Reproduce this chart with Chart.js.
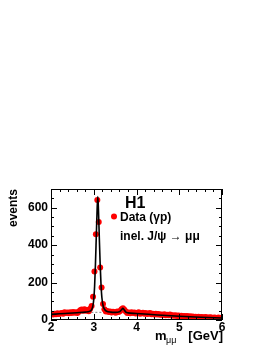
<!DOCTYPE html>
<html>
<head>
<meta charset="utf-8">
<script src="https://cdn.jsdelivr.net/npm/chart.js@4/dist/chart.umd.min.js"></script>
<style>
  html, body { margin: 0; padding: 0; background: #fff; }
  canvas { display: block; }
</style>
</head>
<body>
<canvas id="h1Mass" width="273" height="353"></canvas>
<script>
// m_mumu histogram, 120 bins of 1/30 GeV from 2 to 6 GeV
const binLow = 2.0;
const binWidth = 1 / 30;
const counts = [
  34, 30, 33, 31, 36, 32, 35, 38, 34, 42,
  37, 40, 36, 41, 38, 43, 39, 41, 37, 44,
  52, 56, 50, 58, 49, 54, 47, 60, 75, 124,
  259, 458, 641, 524, 281, 173, 85, 58, 45, 48,
  43, 45, 40, 44, 42, 39, 45, 43, 48, 58,
  63, 55, 46, 38, 40, 36, 42, 37, 40, 35,
  38, 41, 34, 36, 39, 33, 37, 32, 35, 38,
  31, 34, 30, 33, 29, 32, 28, 30, 27, 31,
  26, 28, 25, 29, 24, 26, 23, 25, 22, 24,
  21, 23, 20, 22, 19, 21, 18, 20, 17, 19,
  16, 18, 15, 17, 14, 16, 15, 13, 16, 14,
  12, 15, 13, 11, 14, 12, 10, 13, 11, 12
];

// fit curve (signal + background)
const fitMass = [2.0, 2.2, 2.4, 2.6, 2.8, 2.9, 2.95, 2.98, 3.0, 3.02, 3.04, 3.06, 3.08, 3.095,
  3.11, 3.13, 3.15, 3.17, 3.19, 3.22, 3.26, 3.3, 3.4, 3.5, 3.6, 3.65, 3.68, 3.71, 3.75, 3.8,
  4.0, 4.5, 5.0, 5.5, 6.0];
const fitEvents = [30, 33, 36, 39, 42, 46, 55, 75, 110, 180, 300, 450, 600, 660,
  590, 440, 300, 190, 120, 75, 55, 47, 42, 41, 44, 55, 62, 55, 42, 38,
  35, 27, 20, 15, 11];

// background component under the peaks (dotted)
const bkgMass = [2.85, 3.62];
const bkgEvents = [41, 41];

const xTicks = [2, 3, 4, 5, 6];
const yTicks = [0, 200, 400, 600];

const points = counts.map((c, i) => ({ x: binLow + (i + 0.5) * binWidth, y: c }));
const fitLine = fitMass.map((m, i) => ({ x: m, y: fitEvents[i] }));
const bkgLine = bkgMass.map((m, i) => ({ x: m, y: bkgEvents[i] }));

const FONT = "'Liberation Sans', Arial, Helvetica, sans-serif";

// ROOT-like frame with inward ticks, the x title with subscript, and the legend
const rootFrame = {
  id: "rootFrame",
  afterDatasetsDraw(chart) {
    const ctx = chart.ctx;
    const a = chart.chartArea;
    const xs = chart.scales.x;
    const ys = chart.scales.y;
    ctx.save();
    ctx.strokeStyle = "#000";
    ctx.lineWidth = 1;
    ctx.strokeRect(a.left + 0.5, a.top + 0.5, a.right - a.left - 1, a.bottom - a.top - 1);
    ctx.beginPath();
    for (let v = 2; v <= 6.0001; v += 0.2) {
      const px = Math.round(xs.getPixelForValue(v)) + 0.5;
      const major = Math.abs(v - Math.round(v)) < 1e-6;
      const len = major ? 6 : 3;
      ctx.moveTo(px, a.bottom); ctx.lineTo(px, a.bottom - len);
      ctx.moveTo(px, a.top); ctx.lineTo(px, a.top + len);
    }
    for (let v = 0; v <= 700; v += 50) {
      const py = Math.round(ys.getPixelForValue(v)) + 0.5;
      const major = v % 200 === 0;
      const len = major ? 6 : 3;
      ctx.moveTo(a.left, py); ctx.lineTo(a.left + len, py);
      ctx.moveTo(a.right, py); ctx.lineTo(a.right - len, py);
    }
    ctx.stroke();

    ctx.fillStyle = "#000";
    ctx.textBaseline = "alphabetic";

    // x title: m_{mumu} [GeV], ending at the right of the frame
    ctx.font = "bold 13px " + FONT;
    ctx.textAlign = "right";
    ctx.fillText("[GeV]", a.right + 1, 340);
    ctx.textAlign = "left";
    ctx.fillText("m", 155, 340);
    ctx.font = "9px " + FONT;
    ctx.fillText("\u03bc\u03bc", 166, 343);

    ctx.font = "bold 16px " + FONT;
    ctx.fillText("H1", 125, 208);
    ctx.font = "bold 12px " + FONT;
    ctx.fillText("Data (\u03b3p)", 120, 221);
    ctx.fillText("inel. J/\u03c8 \u2192 \u03bc\u03bc", 120, 240);
    ctx.fillStyle = "#ff0000";
    ctx.beginPath();
    ctx.arc(114, 216.5, 3, 0, Math.PI * 2);
    ctx.fill();
    ctx.restore();
  }
};

new Chart(document.getElementById("h1Mass").getContext("2d"), {
  type: "scatter",
  data: {
    datasets: [
      {
        label: "bkg",
        type: "line",
        data: bkgLine,
        borderColor: "#888",
        borderWidth: 1,
        borderDash: [2, 2],
        pointRadius: 0,
        order: 3
      },
      {
        label: "Data",
        data: points,
        backgroundColor: "#ff0000",
        borderColor: "#ff0000",
        pointRadius: 3,
        borderWidth: 0,
        order: 2
      },
      {
        label: "fit",
        type: "line",
        data: fitLine,
        borderColor: "#000",
        borderWidth: 1.6,
        pointRadius: 0,
        cubicInterpolationMode: "monotone",
        order: 1
      }
    ]
  },
  options: {
    responsive: false,
    devicePixelRatio: 1,
    animation: false,
    layout: { padding: { left: 0, top: 189, right: 51, bottom: 0 } },
    plugins: { legend: { display: false }, tooltip: { enabled: false } },
    scales: {
      x: {
        type: "linear",
        min: 2,
        max: 6,
        afterFit: s => { s.height = 33; },
        afterBuildTicks: s => { s.ticks = xTicks.map(v => ({ value: v })); },
        grid: { display: false, drawTicks: false },
        border: { display: false },
        ticks: { color: "#000", padding: 0, font: { family: FONT, size: 12, weight: "bold" } },
        title: { display: false }
      },
      y: {
        min: 0,
        max: 700,
        afterFit: s => { s.width = 51; },
        afterBuildTicks: s => { s.ticks = yTicks.map(v => ({ value: v })); },
        grid: { display: false, drawTicks: false },
        border: { display: false },
        ticks: { color: "#000", padding: 3, font: { family: FONT, size: 12, weight: "bold" } },
        title: {
          display: true,
          text: "events",
          align: "end",
          color: "#000",
          padding: { top: 6, bottom: 0 },
          font: { family: FONT, size: 12, weight: "bold" }
        }
      }
    }
  },
  plugins: [rootFrame]
});
</script>
</body>
</html>
